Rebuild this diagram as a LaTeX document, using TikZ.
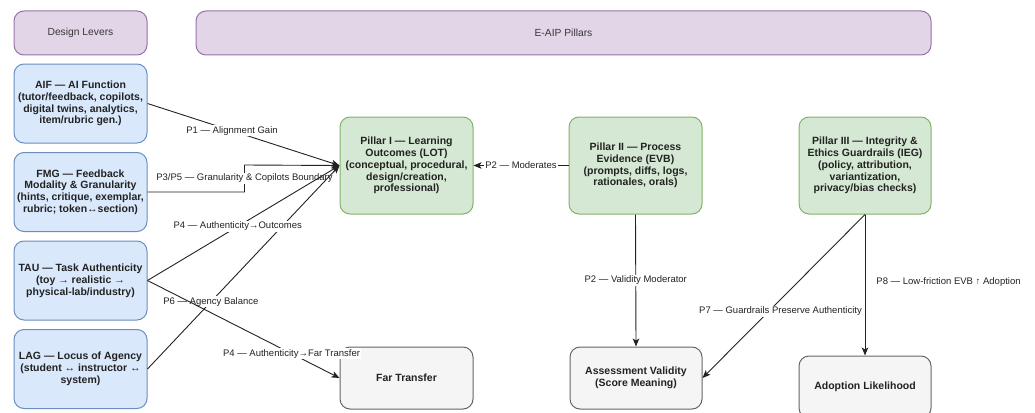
\documentclass[tikz,border=0pt]{standalone}
\usepackage{fontspec}
\setmainfont{Liberation Sans}
\usetikzlibrary{arrows.meta}
\definecolor{bfill}{HTML}{DAE8FC}\definecolor{bdraw}{HTML}{6C8EBF}
\definecolor{gfill}{HTML}{D5E8D4}\definecolor{gdraw}{HTML}{82B366}
\definecolor{pfill}{HTML}{E1D5E7}\definecolor{pdraw}{HTML}{9673A6}
\definecolor{ofill}{HTML}{F5F5F5}\definecolor{odraw}{HTML}{666666}
\definecolor{ink}{HTML}{222222}
\begin{document}
\begin{tikzpicture}[x=1pt,y=-1pt,
  box/.style={rounded corners=10pt, line width=1pt, align=center, text=ink,
    font=\fontsize{10.5}{11.8}\selectfont\bfseries, inner sep=1pt,
    minimum width=133pt, minimum height=79pt},
  lever/.style={box, fill=bfill, draw=bdraw},
  pillar/.style={box, fill=gfill, draw=gdraw, minimum height=97pt},
  outc/.style={box, fill=ofill, draw=odraw, minimum height=62pt},
  hdr/.style={rounded corners=10pt, fill=pfill, draw=pdraw, line width=1pt,
    minimum height=44pt, text=ink!90, font=\fontsize{10.3}{12}\selectfont},
  edge/.style={draw=ink, line width=0.9pt, -{Stealth[length=8pt,width=6.5pt,inset=2pt]}},
  lbl/.style={fill=white, inner sep=1pt, text=ink, font=\fontsize{9.5}{11}\selectfont}]
\useasboundingbox (0,0) rectangle (1035,412);
\node[hdr, minimum width=133pt] (hL) at (80.5,33) {Design Levers};
\node[hdr, minimum width=735pt] (hR) at (563.5,33) {E-AIP Pillars};
\node[lever] (AIF) at (80.5,103.5) {AIF — AI Function\\(tutor/feedback, copilots,\\digital twins, analytics,\\item/rubric gen.)};
\node[lever] (FMG) at (80.5,192) {FMG — Feedback\\Modality \& Granularity\\(hints, critique, exemplar,\\rubric; token↔section)};
\node[lever] (TAU) at (80.5,280.5) {TAU — Task Authenticity\\(toy → realistic →\\physical-lab/industry)};
\node[lever] (LAG) at (80.5,369) {LAG — Locus of Agency\\(student ↔ instructor ↔\\system)};
\node[pillar] (LOT) at (406.5,165.5) {Pillar I — Learning\\Outcomes (LOT)\\(conceptual, procedural,\\design/creation,\\professional)};
\node[pillar] (EVB) at (635.5,165.5) {Pillar II — Process\\Evidence (EVB)\\(prompts, diffs, logs,\\rationales, orals)};
\node[pillar, minimum width=132pt] (IEG) at (865,165.5) {Pillar III — Integrity \&\\Ethics Guardrails (IEG)\\(policy, attribution,\\variantization,\\privacy/bias checks)};
\node[outc] (FT) at (406.5,378) {Far Transfer};
\node[outc, minimum width=132pt] (AV) at (636,378) {Assessment Validity\\(Score Meaning)};
\node[outc, minimum width=132pt] (AL) at (865,387) {Adoption Likelihood};
\draw[edge] (AIF.east) -- node[lbl,pos=0.44]{P1 — Alignment Gain} (LOT.west);
\draw[edge] (FMG.east) -- ++(97,0) -- node[lbl]{P3/P5 — Granularity \& Copilots Boundary} ++(0,-27) -- (LOT.west);
\draw[edge] (LAG.east) -- node[lbl,pos=0.33]{P6 — Agency Balance} (LOT.west);
\draw[edge] (TAU.east) -- node[lbl,pos=0.47]{P4 — Authenticity→Outcomes} (LOT.west);
\draw[edge] (TAU.east) -- node[lbl,pos=0.75]{P4 — Authenticity→Far Transfer} (FT.west);
\draw[edge] (EVB.west) -- node[lbl]{P2 — Moderates} (LOT.east);
\draw[edge] (EVB.south) -- node[lbl]{P2 — Validity Moderator} (AV.north);
\draw[edge] (IEG.south) -- node[lbl,pos=0.52,yshift=-12pt]{P7 — Guardrails Preserve Authenticity} (AV.east);
\draw[edge] (IEG.south) -- node[lbl,pos=0.48,anchor=west,xshift=10pt]{P8 — Low-friction EVB ↑ Adoption} (AL.north);
\end{tikzpicture}
\end{document}
